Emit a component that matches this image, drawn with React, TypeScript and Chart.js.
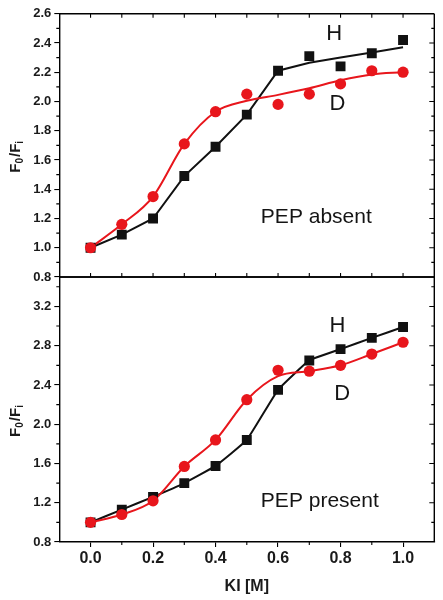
import React, { useEffect, useRef } from "react";
import { Chart, registerables } from "chart.js";

Chart.register(...registerables);

// ---------- data ----------
const KI = [0, 0.1, 0.2, 0.3, 0.4, 0.5, 0.6, 0.7, 0.8, 0.9, 1.0];
const X_TICKS = [0, 0.2, 0.4, 0.6, 0.8, 1.0];

// PEP absent (top panel)
const ABSENT_H = [1.0, 1.09, 1.2, 1.49, 1.69, 1.91, 2.21, 2.31, 2.24, 2.33, 2.42];
const ABSENT_D = [1.0, 1.16, 1.35, 1.71, 1.93, 2.05, 1.98, 2.05, 2.12, 2.21, 2.2];
const ABSENT_H_FIT = [1.0, 1.09, 1.2, 1.49, 1.69, 1.91, 2.21, 2.265, 2.3, 2.335, 2.37];
const ABSENT_D_FIT = [1.0, 1.16, 1.35, 1.71, 1.93, 2.005, 2.045, 2.09, 2.145, 2.185, 2.2];
const ABSENT_Y_TICKS = [0.8, 1.0, 1.2, 1.4, 1.6, 1.8, 2.0, 2.2, 2.4, 2.6];

// PEP present (bottom panel)
const PRESENT_H = [1.0, 1.13, 1.26, 1.4, 1.575, 1.84, 2.35, 2.65, 2.765, 2.88, 2.99];
const PRESENT_D = [1.0, 1.08, 1.22, 1.57, 1.84, 2.25, 2.55, 2.54, 2.6, 2.715, 2.835];
const PRESENT_H_FIT = [1.0, 1.13, 1.26, 1.4, 1.575, 1.84, 2.35, 2.65, 2.765, 2.88, 2.99];
const PRESENT_D_FIT = [1.0, 1.08, 1.22, 1.57, 1.84, 2.25, 2.49, 2.54, 2.6, 2.715, 2.835];
const PRESENT_Y_TICKS = [0.8, 1.2, 1.6, 2.0, 2.4, 2.8, 3.2];

const SERIES_H = "H";
const SERIES_D = "D";
const LABEL_ABSENT = "PEP absent";
const LABEL_PRESENT = "PEP present";
const X_TITLE = "KI [M]";

// ---------- styles ----------
const FONT = '"Liberation Sans", Arial, Helvetica, sans-serif';
const RED = "#e8161c";
const BLACK = "#111111";

type Note = { text: string; x: number; y: number; align: CanvasTextAlign };

type PanelCfg = {
  top: number;
  height: number;
  padTop: number;
  padBottom: number;
  yMin: number;
  yMax: number;
  yTicks: number[];
  yMinor: number;
  h: number[];
  d: number[];
  hFit: number[];
  dFit: number[];
  hTension: number;
  showX: boolean;
  xAxisHeight: number;
  notes: Note[];
};

const TOP_PANEL: PanelCfg = {
  top: 0,
  height: 290,
  padTop: 13.7,
  padBottom: 13,
  yMin: 0.8,
  yMax: 2.6,
  yTicks: ABSENT_Y_TICKS,
  yMinor: 0.1,
  h: ABSENT_H,
  d: ABSENT_D,
  hFit: ABSENT_H_FIT,
  dFit: ABSENT_D_FIT,
  hTension: 0,
  showX: false,
  xAxisHeight: 0,
  notes: [
    { text: SERIES_H, x: 0.78, y: 2.46, align: "center" },
    { text: SERIES_D, x: 0.79, y: 1.98, align: "center" },
    { text: LABEL_ABSENT, x: 0.545, y: 1.21, align: "left" },
  ],
};

const BOTTOM_PANEL: PanelCfg = {
  top: 265,
  height: 335,
  padTop: 12,
  padBottom: 0,
  yMin: 0.8,
  yMax: 3.5,
  yTicks: PRESENT_Y_TICKS,
  yMinor: 0.2,
  h: PRESENT_H,
  d: PRESENT_D,
  hFit: PRESENT_H_FIT,
  dFit: PRESENT_D_FIT,
  hTension: 0.1,
  showX: true,
  xAxisHeight: 58,
  notes: [
    { text: SERIES_H, x: 0.79, y: 3.0, align: "center" },
    { text: SERIES_D, x: 0.805, y: 2.31, align: "center" },
    { text: LABEL_PRESENT, x: 0.545, y: 1.22, align: "left" },
  ],
};

const toXY = (ys: number[]) => KI.map((x, i) => ({ x, y: ys[i] }));

function drawYTitle(ctx: CanvasRenderingContext2D, cx: number, cy: number) {
  const parts = [
    { t: "F", sub: false },
    { t: "0", sub: true },
    { t: "/F", sub: false },
    { t: "i", sub: true },
  ];
  const mainFont = `bold 15px ${FONT}`;
  const subFont = `bold 10px ${FONT}`;
  let total = 0;
  for (const p of parts) {
    ctx.font = p.sub ? subFont : mainFont;
    total += ctx.measureText(p.t).width + (p.sub ? 1 : 0);
  }
  ctx.save();
  ctx.translate(cx, cy);
  ctx.rotate(-Math.PI / 2);
  ctx.fillStyle = "#1a1a1a";
  ctx.textBaseline = "alphabetic";
  ctx.textAlign = "left";
  let x = -total / 2;
  for (const p of parts) {
    ctx.font = p.sub ? subFont : mainFont;
    ctx.fillText(p.t, x, p.sub ? 8 : 5);
    x += ctx.measureText(p.t).width + (p.sub ? 1 : 0);
  }
  ctx.restore();
}

function Panel({ cfg }: { cfg: PanelCfg }) {
  const ref = useRef<HTMLCanvasElement>(null);

  useEffect(() => {
    const near = (a: number, b: number) => Math.abs(a - b) < 1e-6;

    const framePlugin = {
      id: "frameTicks",
      afterDraw(chart: any) {
        const ctx: CanvasRenderingContext2D = chart.ctx;
        const { left, right, top, bottom } = chart.chartArea;
        const xs = chart.scales.x;
        const ys = chart.scales.y;
        ctx.save();
        ctx.strokeStyle = "#000";
        ctx.lineWidth = 1.4;
        ctx.beginPath();
        // frame
        ctx.moveTo(right, top);
        ctx.lineTo(right, bottom);
        ctx.moveTo(left, top);
        ctx.lineTo(right, top);
        if (!cfg.showX) {
          ctx.moveTo(left, bottom);
          ctx.lineTo(right, bottom);
        }
        ctx.stroke();

        ctx.lineWidth = 1.1;
        ctx.beginPath();
        // y ticks (left minor outward, right inward)
        const yStart = Math.ceil(cfg.yMin / cfg.yMinor - 1e-9);
        const yEnd = Math.floor(cfg.yMax / cfg.yMinor + 1e-9);
        for (let i = yStart; i <= yEnd; i++) {
          const v = i * cfg.yMinor;
          const py = ys.getPixelForValue(v);
          const major = cfg.yTicks.some((t) => near(t, v));
          if (py < top - 0.5 || py > bottom + 0.5) continue;
          if (!major) {
            ctx.moveTo(left, py);
            ctx.lineTo(left - 3, py);
          }
          if (near(py, top) || near(py, bottom)) continue;
          ctx.moveTo(right, py);
          ctx.lineTo(right - (major ? 5 : 3), py);
        }
        // x ticks
        for (let i = 0; i <= 10; i++) {
          const v = i / 10;
          const px = xs.getPixelForValue(v);
          const major = X_TICKS.some((t) => near(t, v));
          if (!cfg.showX) {
            ctx.moveTo(px, top);
            ctx.lineTo(px, top + 4);
            ctx.moveTo(px, bottom);
            ctx.lineTo(px, bottom - 4);
          } else if (!major) {
            ctx.moveTo(px, bottom);
            ctx.lineTo(px, bottom + 3);
          }
        }
        ctx.stroke();

        // y title
        drawYTitle(ctx, 15, (top + bottom) / 2 + 11);

        // annotations
        ctx.fillStyle = "#141414";
        ctx.textBaseline = "middle";
        for (const n of cfg.notes) {
          ctx.font = `${n.text.length > 1 ? 21 : 22}px ${FONT}`;
          ctx.textAlign = n.align;
          ctx.fillText(n.text, xs.getPixelForValue(n.x), ys.getPixelForValue(n.y));
        }
        ctx.restore();
      },
    };

    const chart = new Chart(ref.current as HTMLCanvasElement, {
      type: "line",
      data: {
        datasets: [
          {
            label: "D fit",
            data: toXY(cfg.dFit),
            borderColor: RED,
            borderWidth: 2,
            pointRadius: 0,
            cubicInterpolationMode: "monotone",
            order: 2,
          },
          {
            label: "H fit",
            data: toXY(cfg.hFit),
            borderColor: BLACK,
            borderWidth: 2,
            pointRadius: 0,
            tension: cfg.hTension,
            order: 3,
          },
          {
            label: SERIES_D,
            data: toXY(cfg.d),
            showLine: false,
            pointStyle: "circle",
            pointRadius: 5.6,
            pointBackgroundColor: RED,
            pointBorderWidth: 0,
            order: 0,
          },
          {
            label: SERIES_H,
            data: toXY(cfg.h),
            showLine: false,
            pointStyle: "rect",
            pointRadius: 7,
            pointBackgroundColor: BLACK,
            pointBorderWidth: 0,
            order: 1,
          },
        ] as any,
      },
      options: {
        animation: false,
        responsive: false,
        events: [],
        layout: {
          padding: { top: cfg.padTop, right: 8.7, bottom: cfg.padBottom, left: 0 },
        },
        plugins: {
          legend: { display: false },
          tooltip: { enabled: false },
        },
        scales: {
          x: {
            type: "linear",
            min: -0.1,
            max: 1.1,
            display: cfg.showX,
            afterBuildTicks: (s: any) => {
              s.ticks = X_TICKS.map((v) => ({ value: v }));
            },
            afterFit: (s: any) => {
              s.height = cfg.xAxisHeight;
            },
            ticks: {
              callback: (v: any) => Number(v).toFixed(1),
              font: { family: FONT, size: 16, weight: "bold" },
              color: "#1a1a1a",
              padding: 2,
              maxRotation: 0,
              autoSkip: false,
            },
            grid: {
              drawOnChartArea: false,
              tickLength: 5,
              color: "#000",
              lineWidth: 1.1,
            },
            border: { color: "#000", width: 1.4 },
            title: {
              display: true,
              text: X_TITLE,
              color: "#1a1a1a",
              font: { family: FONT, size: 16, weight: "bold" },
              padding: { top: 0, bottom: 4 },
            },
          },
          y: {
            type: "linear",
            min: cfg.yMin,
            max: cfg.yMax,
            afterBuildTicks: (s: any) => {
              s.ticks = cfg.yTicks.map((v) => ({ value: v }));
            },
            afterFit: (s: any) => {
              s.width = 59.3;
            },
            ticks: {
              callback: (v: any) => Number(v).toFixed(1),
              font: { family: FONT, size: 13, weight: "bold" },
              color: "#1a1a1a",
              padding: 3,
              autoSkip: false,
            },
            grid: {
              drawOnChartArea: false,
              tickLength: 5,
              color: "#000",
              lineWidth: 1.1,
            },
            border: { color: "#000", width: 1.4 },
          },
        },
      } as any,
      plugins: [framePlugin],
    });
    return () => chart.destroy();
  }, [cfg]);

  return (
    <canvas
      ref={ref}
      width={443}
      height={cfg.height}
      style={{ position: "absolute", left: 0, top: cfg.top, display: "block" }}
    />
  );
}

export default function App() {
  return (
    <div
      style={{
        position: "fixed",
        left: 0,
        top: 0,
        width: 443,
        height: 600,
        background: "#fff",
        overflow: "hidden",
      }}
    >
      <Panel cfg={TOP_PANEL} />
      <Panel cfg={BOTTOM_PANEL} />
    </div>
  );
}
